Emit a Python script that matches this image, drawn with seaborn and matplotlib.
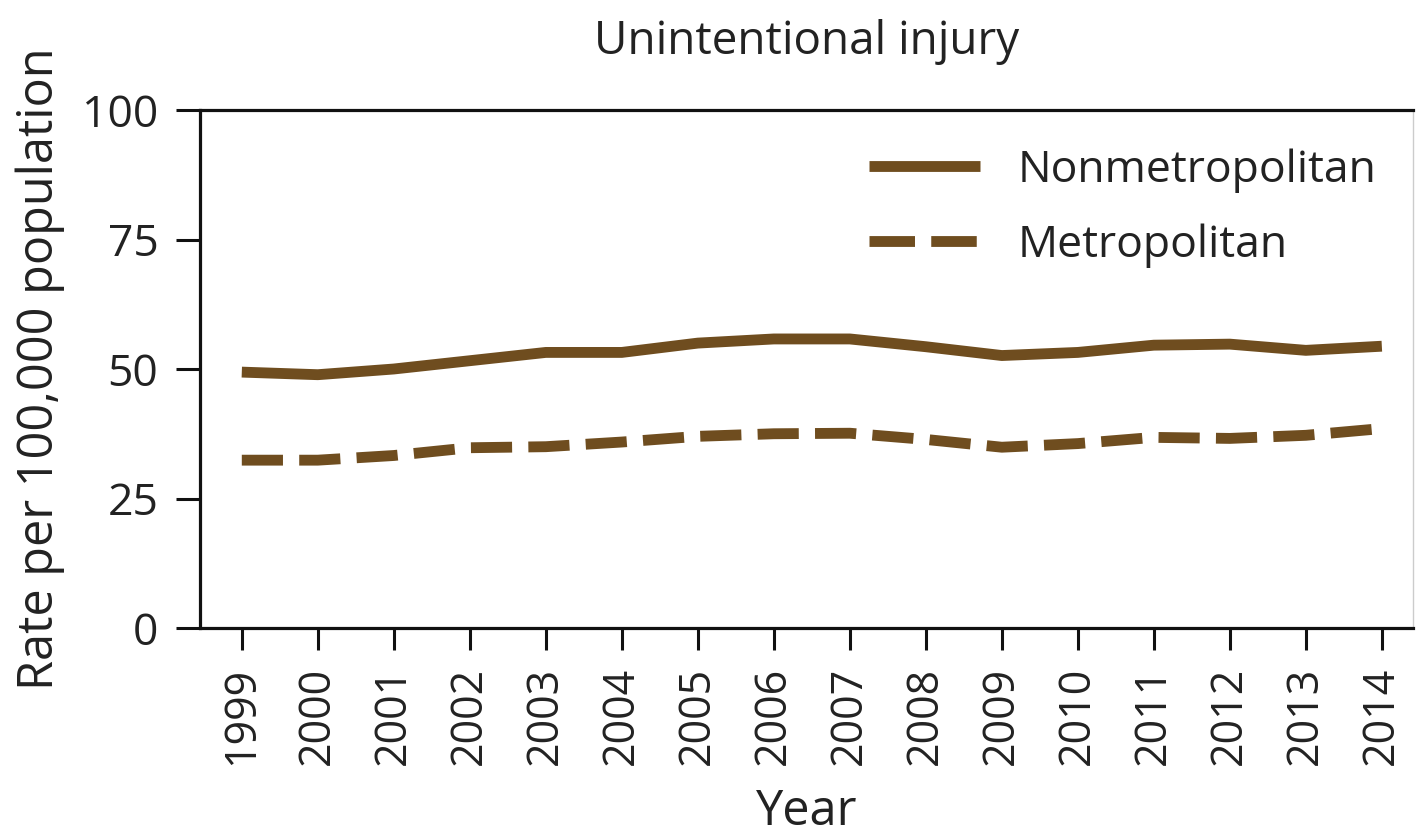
import matplotlib
matplotlib.use("Agg")
import matplotlib.pyplot as plt
from matplotlib.lines import Line2D
import seaborn as sns
import pandas as pd

years = list(range(1999, 2015))
nonmetro = [49.4, 48.9, 50.0, 51.6, 53.2, 53.2, 55.0, 55.8, 55.8, 54.3, 52.6, 53.2, 54.6, 54.8, 53.6, 54.4]
metro = [32.4, 32.4, 33.3, 34.8, 35.0, 35.9, 37.0, 37.5, 37.6, 36.4, 34.9, 35.6, 36.8, 36.6, 37.2, 38.5]
series_names = ["Nonmetropolitan", "Metropolitan"]
y_ticks = [0, 25, 50, 75, 100]

sns.set_theme(style="white")
plt.rcParams["font.family"] = ["Open Sans", "DejaVu Sans"]

color = "#6F4D1F"
lw = 7.8
fig = plt.figure(figsize=(14.16, 8.36), dpi=100)
ax = fig.add_axes([200 / 1416, 1 - 628 / 836, (1413 - 200) / 1416, (628 - 110) / 836])

df_n = pd.DataFrame({"Year": years, "Rate": nonmetro})
df_m = pd.DataFrame({"Year": years, "Rate": metro})
sns.lineplot(data=df_n, x="Year", y="Rate", ax=ax, color=color, linewidth=lw,
             solid_capstyle="butt")
sns.lineplot(data=df_m, x="Year", y="Rate", ax=ax, color=color, linewidth=lw)
ax.lines[-1].set_dashes((3.8, 1.5))
ax.lines[-1].set_dash_capstyle("butt")

ax.set_xlim(1998.45, 2014.41)
ax.set_ylim(0, 100)
ax.set_yticks(y_ticks)
ax.set_xticks(years)
ax.set_xticklabels([str(y) for y in years], rotation=90)

for s in ["left", "top", "bottom"]:
    ax.spines[s].set_color("#111111")
    ax.spines[s].set_linewidth(2.3)
    ax.spines[s].set_visible(True)
ax.spines["right"].set_visible(True)
ax.spines["right"].set_color("#cccccc")
ax.spines["right"].set_linewidth(1.0)

ax.tick_params(axis="y", direction="out", length=17, width=2.2, color="#111111",
               labelsize=32, pad=13, left=True, labelcolor="#222222")
ax.tick_params(axis="x", direction="out", length=16, width=2.2, color="#111111",
               labelsize=31, pad=12, bottom=True, labelcolor="#222222")

ax.set_xlabel("Year", fontsize=35, color="#222222", labelpad=16)
ax.set_ylabel("Rate per 100,000 population", fontsize=35, color="#222222", labelpad=12)
ax.set_title("Unintentional injury", fontsize=33, color="#222222", pad=40)

handles = [
    Line2D([0], [0], color=color, linewidth=lw, solid_capstyle="butt"),
    Line2D([0], [0], color=color, linewidth=lw, dashes=(4.2, 1.5), dash_capstyle="butt"),
]
leg = ax.legend(handles, series_names, loc="upper right", bbox_to_anchor=(1.003, 1.003),
                frameon=False, fontsize=32, handlelength=2.5, handletextpad=0.85,
                labelspacing=0.68)
for t in leg.get_texts():
    t.set_color("#222222")

fig.savefig("out.png", dpi=100, facecolor="white")
